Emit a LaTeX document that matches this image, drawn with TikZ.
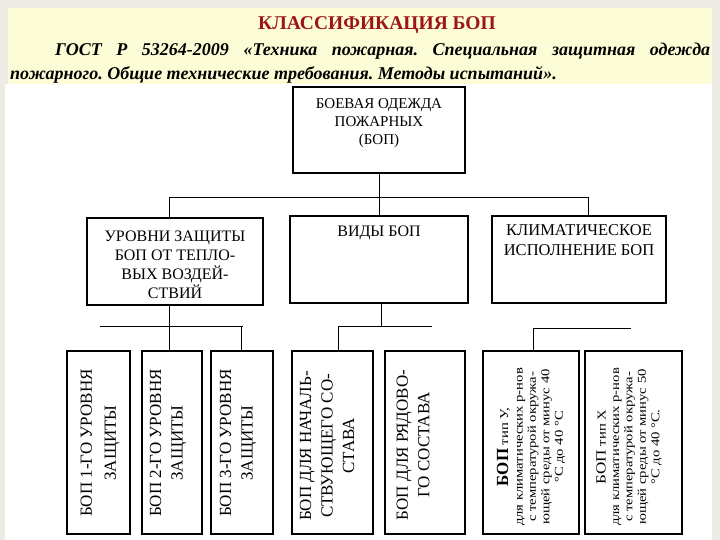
\documentclass[tikz,border=0pt]{standalone}
\usepackage{fontspec}
\setmainfont{Liberation Serif}
\definecolor{bggray}{HTML}{ECEBE6}
\definecolor{paleyellow}{HTML}{FCFCD6}
\definecolor{titlered}{HTML}{9C1616}
\newcommand{\smallstretch}{\fontsize{12}{13.4}\selectfont\addfontfeature{FakeStretch=1.22}}
\begin{document}
\frenchspacing
\begin{tikzpicture}[x=1pt,y=-1pt,
  box/.style={draw=black, line width=2.4pt, fill=white, inner sep=0pt},
  conn/.style={draw=black, line width=0.9pt},
  bt/.style={font=\fontsize{16}{19}\selectfont, align=center, inner sep=0pt, anchor=north},
  rt/.style={font=\fontsize{17}{21.5}\selectfont, align=center, inner sep=0pt, rotate=90},
  st/.style={font=\smallstretch, align=center, inner sep=0pt, rotate=90}]
\useasboundingbox (0,0) rectangle (720,540);
\fill[bggray] (0,0) rectangle (720,540);
\fill[white] (5,84) rectangle (712,540);
\fill[paleyellow] (8,8) rectangle (712,84);

% header
\node[font=\fontsize{19.5}{22}\selectfont\bfseries, text=titlered, inner sep=0pt] (title) at (377,25) {КЛАССИФИКАЦИЯ БОП};
\node[anchor=north west, text width=700pt, align=justify, inner sep=0pt,
      font=\fontsize{18}{24}\selectfont\bfseries\itshape] (gost) at (10,43)
  {\hspace*{45pt}ГОСТ Р 53264-2009 «Техника пожарная. Специальная защитная одежда\linebreak
   пожарного. Общие технические требования. Методы испытаний».};

% level 1
\node[box, minimum width=172pt, minimum height=86pt] (top) at (379,130) {};
\node[bt, font=\fontsize{15}{18}\selectfont] (toptxt) at (379,98) {БОЕВАЯ ОДЕЖДА\\ПОЖАРНЫХ\\(БОП)};

% level 2
\node[box, minimum width=176pt, minimum height=87pt] (lev) at (175,261.5) {};
\node[bt] (levtxt) at (175,231) {УРОВНИ ЗАЩИТЫ\\БОП ОТ ТЕПЛО-\\ВЫХ ВОЗДЕЙ-\\СТВИЙ};
\node[box, minimum width=178pt, minimum height=87pt] (vid) at (379,259.5) {};
\node[bt] (vidtxt) at (379,226) {ВИДЫ БОП};
\node[box, minimum width=174pt, minimum height=87pt] (kli) at (579,259.5) {};
\node[bt, font=\fontsize{16.5}{20}\selectfont] (klitxt) at (579,224) {КЛИМАТИЧЕСКОЕ\\ИСПОЛНЕНИЕ БОП};

% level 3
\node[box, minimum width=63pt, minimum height=183pt] (b1) at (98.5,442.5) {};
\node[rt, font=\fontsize{17}{24}\selectfont] (b1t) at (100,443) {БОП 1-ГО УРОВНЯ\\ЗАЩИТЫ};
\node[box, minimum width=60pt, minimum height=183pt] (b2) at (172,442.5) {};
\node[rt] (b2t) at (168,443) {БОП 2-ГО УРОВНЯ\\ЗАЩИТЫ};
\node[box, minimum width=62pt, minimum height=183pt] (b3) at (242,442.5) {};
\node[rt] (b3t) at (238,443) {БОП 3-ГО УРОВНЯ\\ЗАЩИТЫ};
\node[box, minimum width=81pt, minimum height=183pt] (b4) at (332.5,442.5) {};
\node[rt] (b4t) at (327,446) {БОП ДЛЯ НАЧАЛЬ-\\СТВУЮЩЕГО СО-\\СТАВА};
\node[box, minimum width=80pt, minimum height=183pt] (b5) at (425,442.5) {};
\node[rt] (b5t) at (413,445) {БОП ДЛЯ РЯДОВО-\\ГО СОСТАВА};
\node[box, minimum width=96pt, minimum height=183pt] (b6) at (531,442.5) {};
\node[st] (b6t) at (531,447) {{\fontsize{17}{17}\selectfont\addfontfeature{FakeStretch=1}\bfseries БОП} тип У,\\[1pt]для климатических р-нов\\с температурой окружа-\\ющей среды от минус 40\\°С до 40 °С};
\node[box, minimum width=97pt, minimum height=183pt] (b7) at (633.5,442.5) {};
\node[st] (b7t) at (629,447) {{\fontsize{14}{14}\selectfont БОП} тип Х\\для климатических р-нов\\с температурой окружа-\\ющей среды от минус 50\\°С до 40 °С.};

% connectors level 1 -> 2
\coordinate (h1) at (379,197);
\coordinate (hl) at (169,197);
\coordinate (hr) at (588,197);
\draw[conn] (top.south) -- (h1);
\draw[conn] (hl) -- (hr);
\draw[conn] (hl) -- (hl |- lev.north);
\draw[conn] (h1) -- (vid.north);
\draw[conn] (hr) -- (hr |- kli.north);

% connectors level 2 -> 3
\coordinate (la) at (100,326);
\coordinate (lb) at (243,326);
\coordinate (lc) at (241,326);
\draw[conn] (hl |- lev.south) -- (hl |- b2.north);
\draw[conn] (la) -- (lb);
\draw[conn] (lc) -- (lc |- b3.north);

\coordinate (va) at (338,326);
\coordinate (vb) at (432,326);
\coordinate (vc) at (381,326);
\draw[conn] (vc |- vid.south) -- (vc);
\draw[conn] (va) -- (vb);
\draw[conn] (va) -- (va |- b4.north);

\coordinate (ka) at (533,328);
\coordinate (kb) at (631,328);
\draw[conn] (ka) -- (kb);
\draw[conn] (ka) -- (ka |- b6.north);
\end{tikzpicture}
\end{document}
